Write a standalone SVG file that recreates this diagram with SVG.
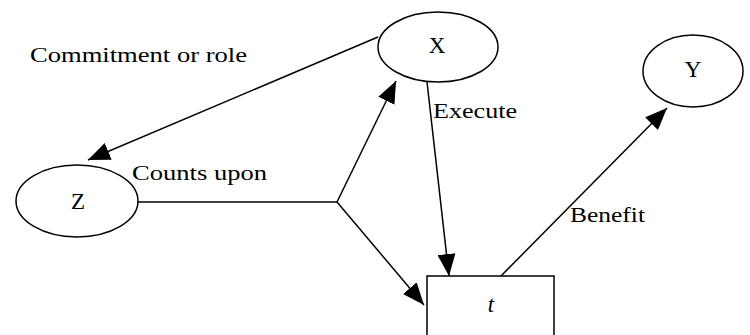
<svg xmlns="http://www.w3.org/2000/svg" width="750" height="335" viewBox="0 0 750 335">
<style>
.node{fill:#fff;stroke:#000;stroke-width:1.5}
.edge{fill:none;stroke:#000;stroke-width:1.5}
.lbl{font-family:"Liberation Serif","DejaVu Serif",serif;font-size:21px;fill:#000}
.nl{font-family:"Liberation Serif","DejaVu Serif",serif;font-size:23px;fill:#000;text-anchor:middle}
</style>
<defs>
<marker id="ah" markerUnits="userSpaceOnUse" markerWidth="22" markerHeight="18" refX="22" refY="9" orient="auto" viewBox="0 0 22 18">
<path d="M0,0 L22,9 L0,18 z" fill="#000"/>
</marker>
</defs>
<rect width="750" height="335" fill="#fff"/>
<g id="connectors">
<line class="edge" x1="378" y1="37" x2="88" y2="160" marker-end="url(#ah)"/>
<line class="edge" x1="137" y1="202" x2="337" y2="202"/>
<line class="edge" x1="337" y1="202" x2="396" y2="81" marker-end="url(#ah)"/>
<line class="edge" x1="337" y1="202" x2="424" y2="305" marker-end="url(#ah)"/>
<line class="edge" x1="427" y1="82" x2="449" y2="276" marker-end="url(#ah)"/>
<line class="edge" x1="501" y1="276" x2="667" y2="108" marker-end="url(#ah)"/>
<text class="lbl" x="30" y="62" textLength="217" lengthAdjust="spacingAndGlyphs">Commitment or role</text>
<text class="lbl" x="132" y="180" textLength="135" lengthAdjust="spacingAndGlyphs">Counts upon</text>
<text class="lbl" x="433" y="118" textLength="84" lengthAdjust="spacingAndGlyphs">Execute</text>
<text class="lbl" x="570" y="222" textLength="75" lengthAdjust="spacingAndGlyphs">Benefit</text>
</g>
<g id="node-X">
<ellipse class="node" cx="438" cy="47" rx="60" ry="35"/>
<text class="nl" x="437" y="53">X</text>
</g>
<g id="node-Y">
<ellipse class="node" cx="693" cy="71" rx="50" ry="36"/>
<text class="nl" x="693" y="77">Y</text>
</g>
<g id="node-Z">
<ellipse class="node" cx="77" cy="201" rx="61" ry="36"/>
<text class="nl" x="78" y="209">Z</text>
</g>
<g id="node-t">
<rect class="node" x="427" y="276" width="127" height="70"/>
<text class="nl" x="491" y="312" font-style="italic">t</text>
</g>
</svg>
